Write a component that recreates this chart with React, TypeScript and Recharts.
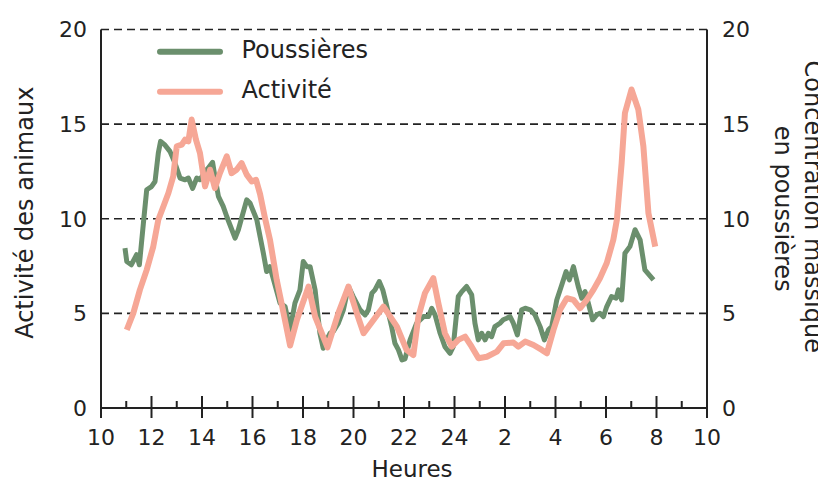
import React from 'react';
import { LineChart, Line, XAxis, YAxis, CartesianGrid, Label } from 'recharts';

const FONT = '"DejaVu Sans", "Liberation Sans", Arial, sans-serif';
const GREEN = '#6b8f6d';
const SALMON = '#f6a796';
const INK = '#222';

const hourTicks = [10, 11, 12, 13, 14, 15, 16, 17, 18, 19, 20, 21, 22, 23, 24, 25, 26, 27, 28, 29, 30, 31, 32, 33, 34];
const yTicks = [0, 5, 10, 15, 20];

const seriesNames = ['Poussières', 'Activité'];

const poussieresHours = [
  10.95, 11.02, 11.2, 11.41, 11.52, 11.68, 11.81, 12.0, 12.14, 12.27, 12.36, 12.53, 12.73, 12.93,
  13.13, 13.33, 13.46, 13.63, 13.79, 13.92, 14.12, 14.25, 14.42, 14.51, 14.65, 14.84, 14.98, 15.31,
  15.44, 15.77, 15.9, 16.17, 16.43, 16.56, 16.69, 17.09, 17.29, 17.49, 17.68, 17.88, 18.01, 18.15,
  18.28, 18.48, 18.67, 18.8, 18.94, 19.07, 19.2, 19.4, 19.6, 19.8, 19.99, 20.26, 20.46, 20.59, 20.73,
  20.85, 21.02, 21.16, 21.29, 21.51, 21.64, 21.78, 21.92, 22.04, 22.24, 22.5, 22.77, 22.97, 23.1,
  23.23, 23.43, 23.62, 23.82, 23.95, 24.15, 24.29, 24.48, 24.68, 24.81, 24.94, 25.08, 25.21, 25.34,
  25.47, 25.6, 25.8, 25.93, 26.07, 26.2, 26.33, 26.49, 26.66, 26.8, 27.0, 27.19, 27.39, 27.56, 27.72,
  27.85, 28.05, 28.25, 28.42, 28.55, 28.71, 28.9, 29.04, 29.17, 29.3, 29.47, 29.63, 29.76, 29.9,
  30.03, 30.22, 30.4, 30.49, 30.62, 30.75, 30.95, 31.15, 31.35, 31.54, 31.88,
];
const poussieresValues = [
  8.45, 7.74, 7.57, 8.1, 7.57, 9.77, 11.53, 11.7, 11.97, 13.47, 14.09, 13.9, 13.56, 12.94,
  12.15, 12.06, 12.15, 11.6, 12.15, 12.06, 12.5, 12.68, 12.98, 12.24, 11.18, 10.65, 10.12, 8.98,
  9.42, 11.0, 10.83, 9.95, 8.18, 7.21, 7.47, 5.54, 5.36, 4.13, 5.54, 6.24, 7.74, 7.47,
  7.47, 6.24, 3.95, 3.16, 3.6, 3.95, 4.04, 4.48, 5.19, 6.42, 5.89, 5.19, 4.92, 5.19, 6.07,
  6.24, 6.68, 6.24, 5.54, 4.3, 3.42, 3.07, 2.54, 2.6, 3.6, 4.48, 4.83, 4.83, 5.27,
  4.92, 3.95, 3.24, 2.89, 3.24, 5.89, 6.15, 6.42, 5.98, 4.48, 3.6, 3.95, 3.6, 3.95,
  3.77, 4.3, 4.48, 4.66, 4.74, 4.83, 4.48, 3.86, 5.19, 5.27, 5.19, 4.92, 4.3, 3.6, 4.13,
  4.3, 5.71, 6.51, 7.21, 6.77, 7.47, 6.42, 5.8, 6.15, 5.54, 4.66, 4.92, 5.01, 4.83,
  5.36, 5.89, 5.8, 6.24, 5.71, 8.18, 8.54, 9.42, 8.89, 7.3, 6.77,
];

const activiteHours = [
  11.02, 11.28, 11.54, 11.81, 12.07, 12.27, 12.47, 12.67, 12.86, 13.0, 13.2, 13.33, 13.46, 13.59,
  13.76, 13.92, 14.12, 14.32, 14.51, 14.71, 14.98, 15.17, 15.37, 15.57, 15.77, 15.97, 16.14, 16.3,
  16.5, 16.69, 16.96, 17.23, 17.49, 17.76, 18.22, 18.48, 18.97, 19.4, 19.8, 20.13, 20.4, 21.19,
  21.72, 22.1, 22.37, 22.57, 22.83, 23.16, 23.36, 23.62, 23.89, 24.15, 24.42, 24.68, 24.95, 25.28,
  25.68, 25.94, 26.33, 26.53, 26.8, 27.13, 27.46, 27.66, 27.92, 28.18, 28.45, 28.71, 28.97, 29.24,
  29.5, 29.76, 30.03, 30.29, 30.43, 30.62, 30.75, 31.01, 31.28, 31.48, 31.68, 31.95,
];
const activiteValues = [
  4.13, 5.01, 6.24, 7.3, 8.53, 9.95, 10.65, 11.36, 12.24, 13.83, 13.92, 14.18, 14.09, 15.24,
  14.18, 13.47, 11.71, 12.59, 11.62, 12.41, 13.3, 12.41, 12.59, 12.94, 12.33, 11.97, 12.06, 11.3,
  10.0, 8.9, 6.77, 5.01, 3.3, 4.66, 6.42, 4.83, 3.2, 5.01, 6.42, 5.01, 3.95, 5.36,
  4.3, 3.07, 2.8, 4.83, 6.07, 6.86, 5.54, 3.95, 3.24, 3.6, 3.77, 3.24, 2.63, 2.71,
  2.98, 3.42, 3.46, 3.24, 3.51, 3.33, 3.07, 2.89, 4.13, 5.19, 5.8, 5.71, 5.27, 5.71,
  6.24, 6.86, 7.66, 8.89, 9.95, 12.94, 15.59, 16.83, 15.77, 13.83, 10.3, 8.53,
];

const poussieresData = poussieresHours.map((h, i) => ({ h, v: poussieresValues[i] }));
const activiteData = activiteHours.map((h, i) => ({ h, v: activiteValues[i] }));

const hourLabel = (h: number) => String(h > 24 ? h - 24 : h);

const XTick = (props: any) => {
  const { x, y, payload } = props;
  const v = Number(payload.value);
  const major = v % 2 === 0;
  return (
    <g>
      <line x1={x} x2={x} y1={major ? y - 12 : y - 7} y2={major ? y + 10 : y} stroke={INK} strokeWidth={2} />
      {major && (
        <text x={x} y={y + 37} textAnchor="middle" fontSize={22} fill={INK} fontFamily={FONT}>
          {hourLabel(v)}
        </text>
      )}
    </g>
  );
};

const HeuresLabel = (props: any) => {
  const vb = props.viewBox || { x: 93, y: 400, width: 606, height: 60 };
  return (
    <text x={vb.x + vb.width / 2 + 8} y={vb.y + 69} textAnchor="middle" fontSize={23} fill={INK} fontFamily={FONT}>
      Heures
    </text>
  );
};

const LeftLabel = (props: any) => {
  const vb = props.viewBox || { x: 23, y: 21.5, width: 70, height: 378.5 };
  const cx = vb.x - 6;
  const cy = vb.y + vb.height / 2 - 6;
  return (
    <text x={cx} y={cy} transform={`rotate(-90, ${cx}, ${cy})`} textAnchor="middle" dominantBaseline="central" fontSize={24} fill={INK} fontFamily={FONT}>
      Activité des animaux
    </text>
  );
};

const RightLabel = (props: any) => {
  const vb = props.viewBox || { x: 699, y: 21.5, width: 90, height: 378.5 };
  const cy = vb.y + vb.height / 2;
  const x1 = vb.x + 106;
  const x2 = vb.x + 76;
  return (
    <g>
      <text x={x1} y={cy - 12} transform={`rotate(90, ${x1}, ${cy - 12})`} textAnchor="middle" dominantBaseline="central" fontSize={24} fill={INK} fontFamily={FONT}>
        Concentration massique
      </text>
      <text x={x2} y={cy - 10} transform={`rotate(90, ${x2}, ${cy - 10})`} textAnchor="middle" dominantBaseline="central" fontSize={24} fill={INK} fontFamily={FONT}>
        en poussières
      </text>
    </g>
  );
};

const legendItems = [
  { name: seriesNames[0], color: GREEN },
  { name: seriesNames[1], color: SALMON },
];

export default function App() {
  return (
    <div style={{ position: 'relative', width: 818, height: 474, fontFamily: FONT }}>
      <LineChart width={818} height={474} margin={{ top: 21.5, right: 29, bottom: 14, left: 23 }}>
        <CartesianGrid vertical={false} stroke={INK} strokeDasharray="8 5" strokeWidth={1.6} />
        <XAxis
          dataKey="h"
          type="number"
          domain={[10, 34]}
          ticks={hourTicks}
          interval={0}
          height={60}
          tickLine={false}
          tickSize={0}
          tickMargin={0}
          tick={<XTick />}
          axisLine={{ stroke: INK, strokeWidth: 2 }}
          allowDuplicatedCategory={false}
        >
          <Label content={<HeuresLabel />} />
        </XAxis>
        <YAxis
          domain={[0, 20]}
          ticks={yTicks}
          width={70}
          tickLine={false}
          tickSize={0}
          tickMargin={14}
          tick={{ fontSize: 22, fill: INK, fontFamily: FONT }}
          axisLine={{ stroke: INK, strokeWidth: 2 }}
        >
          <Label content={<LeftLabel />} />
        </YAxis>
        <YAxis
          yAxisId="right"
          orientation="right"
          domain={[0, 20]}
          ticks={yTicks}
          width={90}
          tickLine={false}
          tickSize={0}
          tickMargin={15}
          tick={{ fontSize: 22, fill: INK, fontFamily: FONT, textAnchor: 'start' }}
          axisLine={{ stroke: INK, strokeWidth: 2 }}
        >
          <Label content={<RightLabel />} />
        </YAxis>
        <Line
          data={poussieresData}
          dataKey="v"
          name={seriesNames[0]}
          yAxisId="right"
          type="linear"
          stroke={GREEN}
          strokeWidth={5}
          strokeLinejoin="round"
          dot={false}
          isAnimationActive={false}
        />
        <Line
          data={activiteData}
          dataKey="v"
          name={seriesNames[1]}
          type="linear"
          stroke={SALMON}
          strokeWidth={6}
          strokeLinejoin="round"
          dot={false}
          isAnimationActive={false}
        />
      </LineChart>
      <svg width={818} height={474} style={{ position: 'absolute', left: 0, top: 0, pointerEvents: 'none' }}>
        {legendItems.map((it, i) => (
          <g key={it.name}>
            <line x1={152} x2={212} y1={43.7 + i * 40} y2={43.7 + i * 40} stroke={it.color} strokeWidth={6} strokeLinecap="round" />
            <text x={233.5} y={49.5 + i * 40} fontSize={24} fill={INK} fontFamily={FONT}>
              {it.name}
            </text>
          </g>
        ))}
      </svg>
    </div>
  );
}
